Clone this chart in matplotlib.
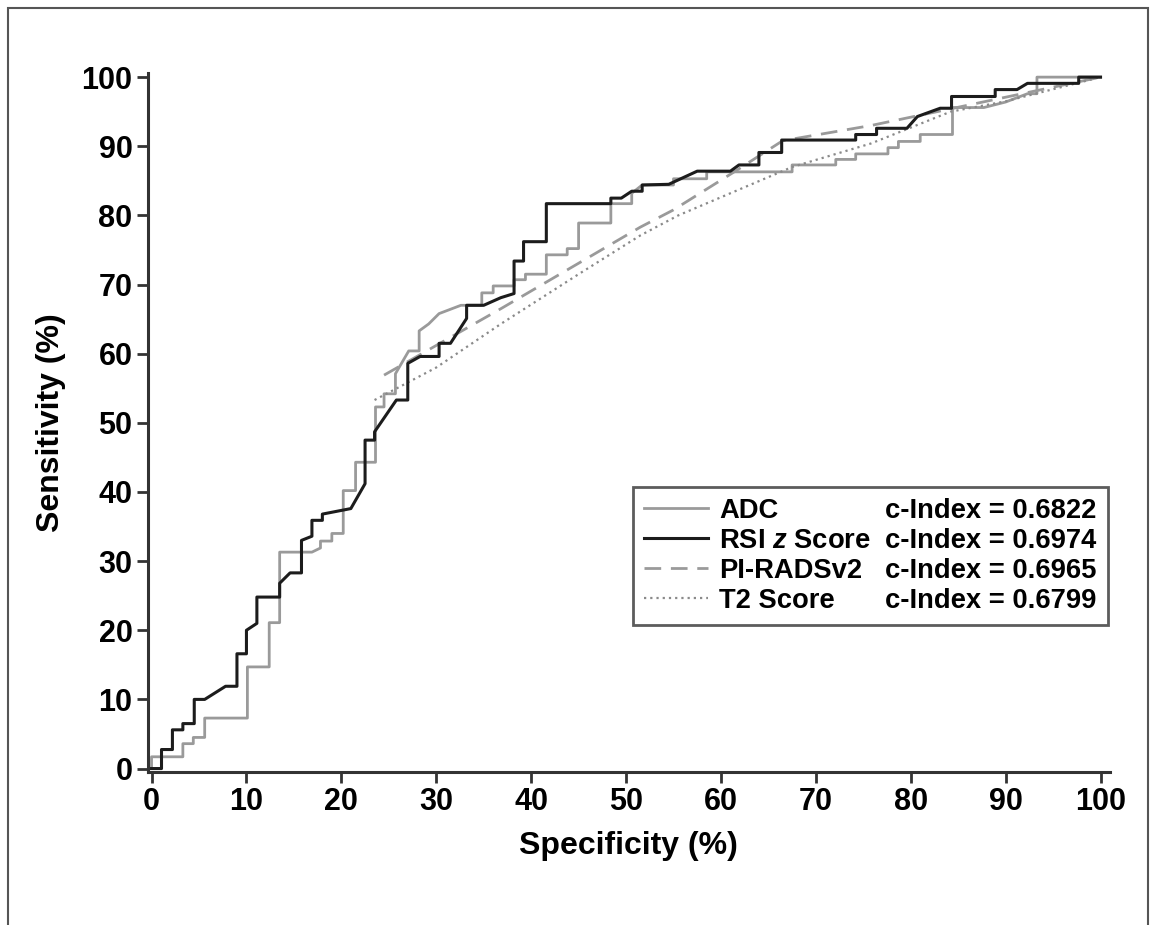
import matplotlib.pyplot as plt
from matplotlib.lines import Line2D
from matplotlib.patches import Rectangle

plt.rcParams['font.family'] = ['Liberation Sans', 'DejaVu Sans']
plt.rcParams['font.weight'] = 'bold'
plt.rcParams['mathtext.fontset'] = 'custom'
plt.rcParams['mathtext.it'] = 'Liberation Sans:italic:bold'
plt.rcParams['mathtext.rm'] = 'Liberation Sans:bold'

# ROC curves (specificity %, sensitivity %)
adc_spec = [0, 0, 3.3, 3.3, 4.4, 4.4, 5.6, 5.6, 10.1, 10.1, 12.4, 12.4, 13.5, 13.5,
            16.9, 17.8, 17.8, 19.0, 19.0, 20.2, 20.2, 21.5, 21.5, 23.6, 23.6, 24.5,
            24.5, 25.7, 25.7, 27.1, 28.2, 28.2, 29.2, 30.3, 32.6, 34.8, 34.8, 36.0,
            36.0, 38.2, 38.2, 39.4, 39.4, 41.6, 41.6, 43.8, 43.8, 45.0, 45.0, 48.4,
            48.4, 50.6, 50.6, 51.7, 55.0, 55.0, 58.5, 58.5, 67.5, 67.5, 72.1, 72.1,
            74.2, 74.2, 77.6, 77.6, 78.7, 78.7, 81.0, 81.0, 84.4, 84.4, 87.7, 90.0,
            92.3, 93.3, 93.3, 100]
adc_sens = [0, 1.7, 1.7, 3.6, 3.6, 4.5, 4.5, 7.3, 7.3, 14.7, 14.7, 21.1, 21.1, 31.3,
            31.3, 31.9, 32.9, 32.9, 34.0, 34.0, 40.2, 40.2, 44.3, 44.3, 52.3, 52.3,
            54.2, 54.2, 57.1, 60.4, 60.4, 63.3, 64.3, 65.8, 67.0, 67.0, 68.8, 68.8,
            69.8, 69.8, 70.7, 70.7, 71.5, 71.5, 74.3, 74.3, 75.2, 75.2, 78.9, 78.9,
            81.7, 81.7, 83.2, 84.4, 84.4, 85.3, 85.3, 86.3, 86.3, 87.3, 87.3, 88.1,
            88.1, 88.9, 88.9, 89.8, 89.8, 90.7, 90.7, 91.7, 91.7, 95.6, 95.6, 96.4,
            97.6, 97.6, 100, 100]

rsi_spec = [0, 1.05, 1.05, 2.2, 2.2, 3.3, 3.3, 4.5, 4.5, 5.6, 7.8, 9.0, 9.0, 10.0,
            10.0, 11.1, 11.1, 13.5, 13.5, 14.6, 15.8, 15.8, 16.9, 16.9, 18.0, 18.0,
            21.0, 22.5, 22.5, 23.5, 23.5, 25.8, 27.0, 27.0, 28.3, 30.3, 30.3, 31.5,
            33.2, 33.2, 35.0, 36.8, 38.2, 38.2, 39.2, 39.2, 41.6, 41.6, 48.4, 48.4,
            49.5, 50.6, 51.7, 51.7, 54.5, 57.5, 61.0, 61.9, 64.0, 64.0, 66.4, 66.4,
            74.2, 74.2, 76.4, 76.4, 79.6, 80.7, 83.1, 84.3, 84.3, 88.9, 88.9, 91.2,
            92.3, 97.7, 97.7, 100]
rsi_sens = [0, 0, 2.75, 2.75, 5.6, 5.6, 6.5, 6.5, 10.0, 10.0, 11.9, 11.9, 16.6, 16.6,
            20.0, 21.0, 24.8, 24.8, 26.8, 28.3, 28.3, 33.0, 33.6, 35.9, 35.9, 36.8,
            37.6, 41.2, 47.5, 47.5, 48.7, 53.3, 53.3, 58.6, 59.6, 59.6, 61.5, 61.5,
            65.1, 67.0, 67.0, 68.1, 68.7, 73.4, 73.4, 76.2, 76.2, 81.7, 81.7, 82.5,
            82.5, 83.5, 83.5, 84.4, 84.5, 86.4, 86.4, 87.3, 87.3, 89.1, 89.1, 90.9,
            90.9, 91.7, 91.7, 92.6, 92.6, 94.3, 95.5, 95.5, 97.2, 97.2, 98.2, 98.2,
            99.1, 99.1, 100, 100]

pirads_spec = [24.5, 36.8, 51.5, 55.0, 61.4, 66.5, 75.8, 84.5, 100]
pirads_sens = [56.9, 66.5, 78.3, 80.8, 86.3, 90.8, 93.0, 95.5, 100]

t2_spec = [23.5, 30.0, 36.8, 45.0, 51.5, 55.5, 67.5, 75.8, 84.2, 90.0, 100]
t2_sens = [53.3, 58.0, 64.3, 71.5, 77.1, 80.0, 87.0, 90.4, 95.0, 96.5, 100]

names = ['ADC', 'RSI $z$ Score', 'PI-RADSv2', 'T2 Score']
c_index = [0.6822, 0.6974, 0.6965, 0.6799]

fig = plt.figure(figsize=(11.57, 9.25), dpi=100)
ax = fig.add_axes([0.1277, 0.1654, 0.8317, 0.7557])

gray = '#9a9a9a'
l_adc, = ax.plot(adc_spec, adc_sens, color=gray, lw=2.0)
l_pi, = ax.plot(pirads_spec, pirads_sens, color=gray, lw=2.0, dashes=(6, 3.5))
l_t2, = ax.plot(t2_spec, t2_sens, color='#8a8a8a', lw=1.6, dashes=(1, 1.8))
l_rsi, = ax.plot(rsi_spec, rsi_sens, color='#1c1c1c', lw=2.2)

ax.set_xlim(-0.4, 101)
ax.set_ylim(-0.5, 100.6)
ax.set_xticks(range(0, 101, 10))
ax.set_yticks(range(0, 101, 10))
for s in ['top', 'right']:
    ax.spines[s].set_visible(False)
for s in ['left', 'bottom']:
    ax.spines[s].set_linewidth(2.2)
    ax.spines[s].set_color('#333333')
ax.tick_params(direction='out', length=8, width=2, color='#333333',
               labelsize=22, pad=3)
ax.set_xlabel('Specificity (%)', fontsize=23, fontweight='bold', labelpad=10)
ax.set_ylabel('Sensitivity (%)', fontsize=23, fontweight='bold', labelpad=11)

blank = [Line2D([], [], color='none') for _ in names]
leg = ax.legend(handles=[l_adc, l_rsi, l_pi, l_t2] + blank,
                labels=names + ['c-Index = %.4f' % c for c in c_index],
                ncol=2, loc='upper left', bbox_to_anchor=(0.504, 0.408),
                frameon=True, fancybox=False, edgecolor='#333333',
                fontsize=19.7, handlelength=2.35, handletextpad=0.42,
                columnspacing=-2.25, labelspacing=0.15, borderpad=0.4,
                borderaxespad=0)
leg.get_frame().set_linewidth(2)

# outer frame around the figure
fig.patches.append(Rectangle((8 / 1157, -0.05), 1140 / 1157, 1.05 - 8 / 925,
                             transform=fig.transFigure, fill=False,
                             edgecolor='#555555', lw=1.5))

fig.savefig('out.png', dpi=100)
